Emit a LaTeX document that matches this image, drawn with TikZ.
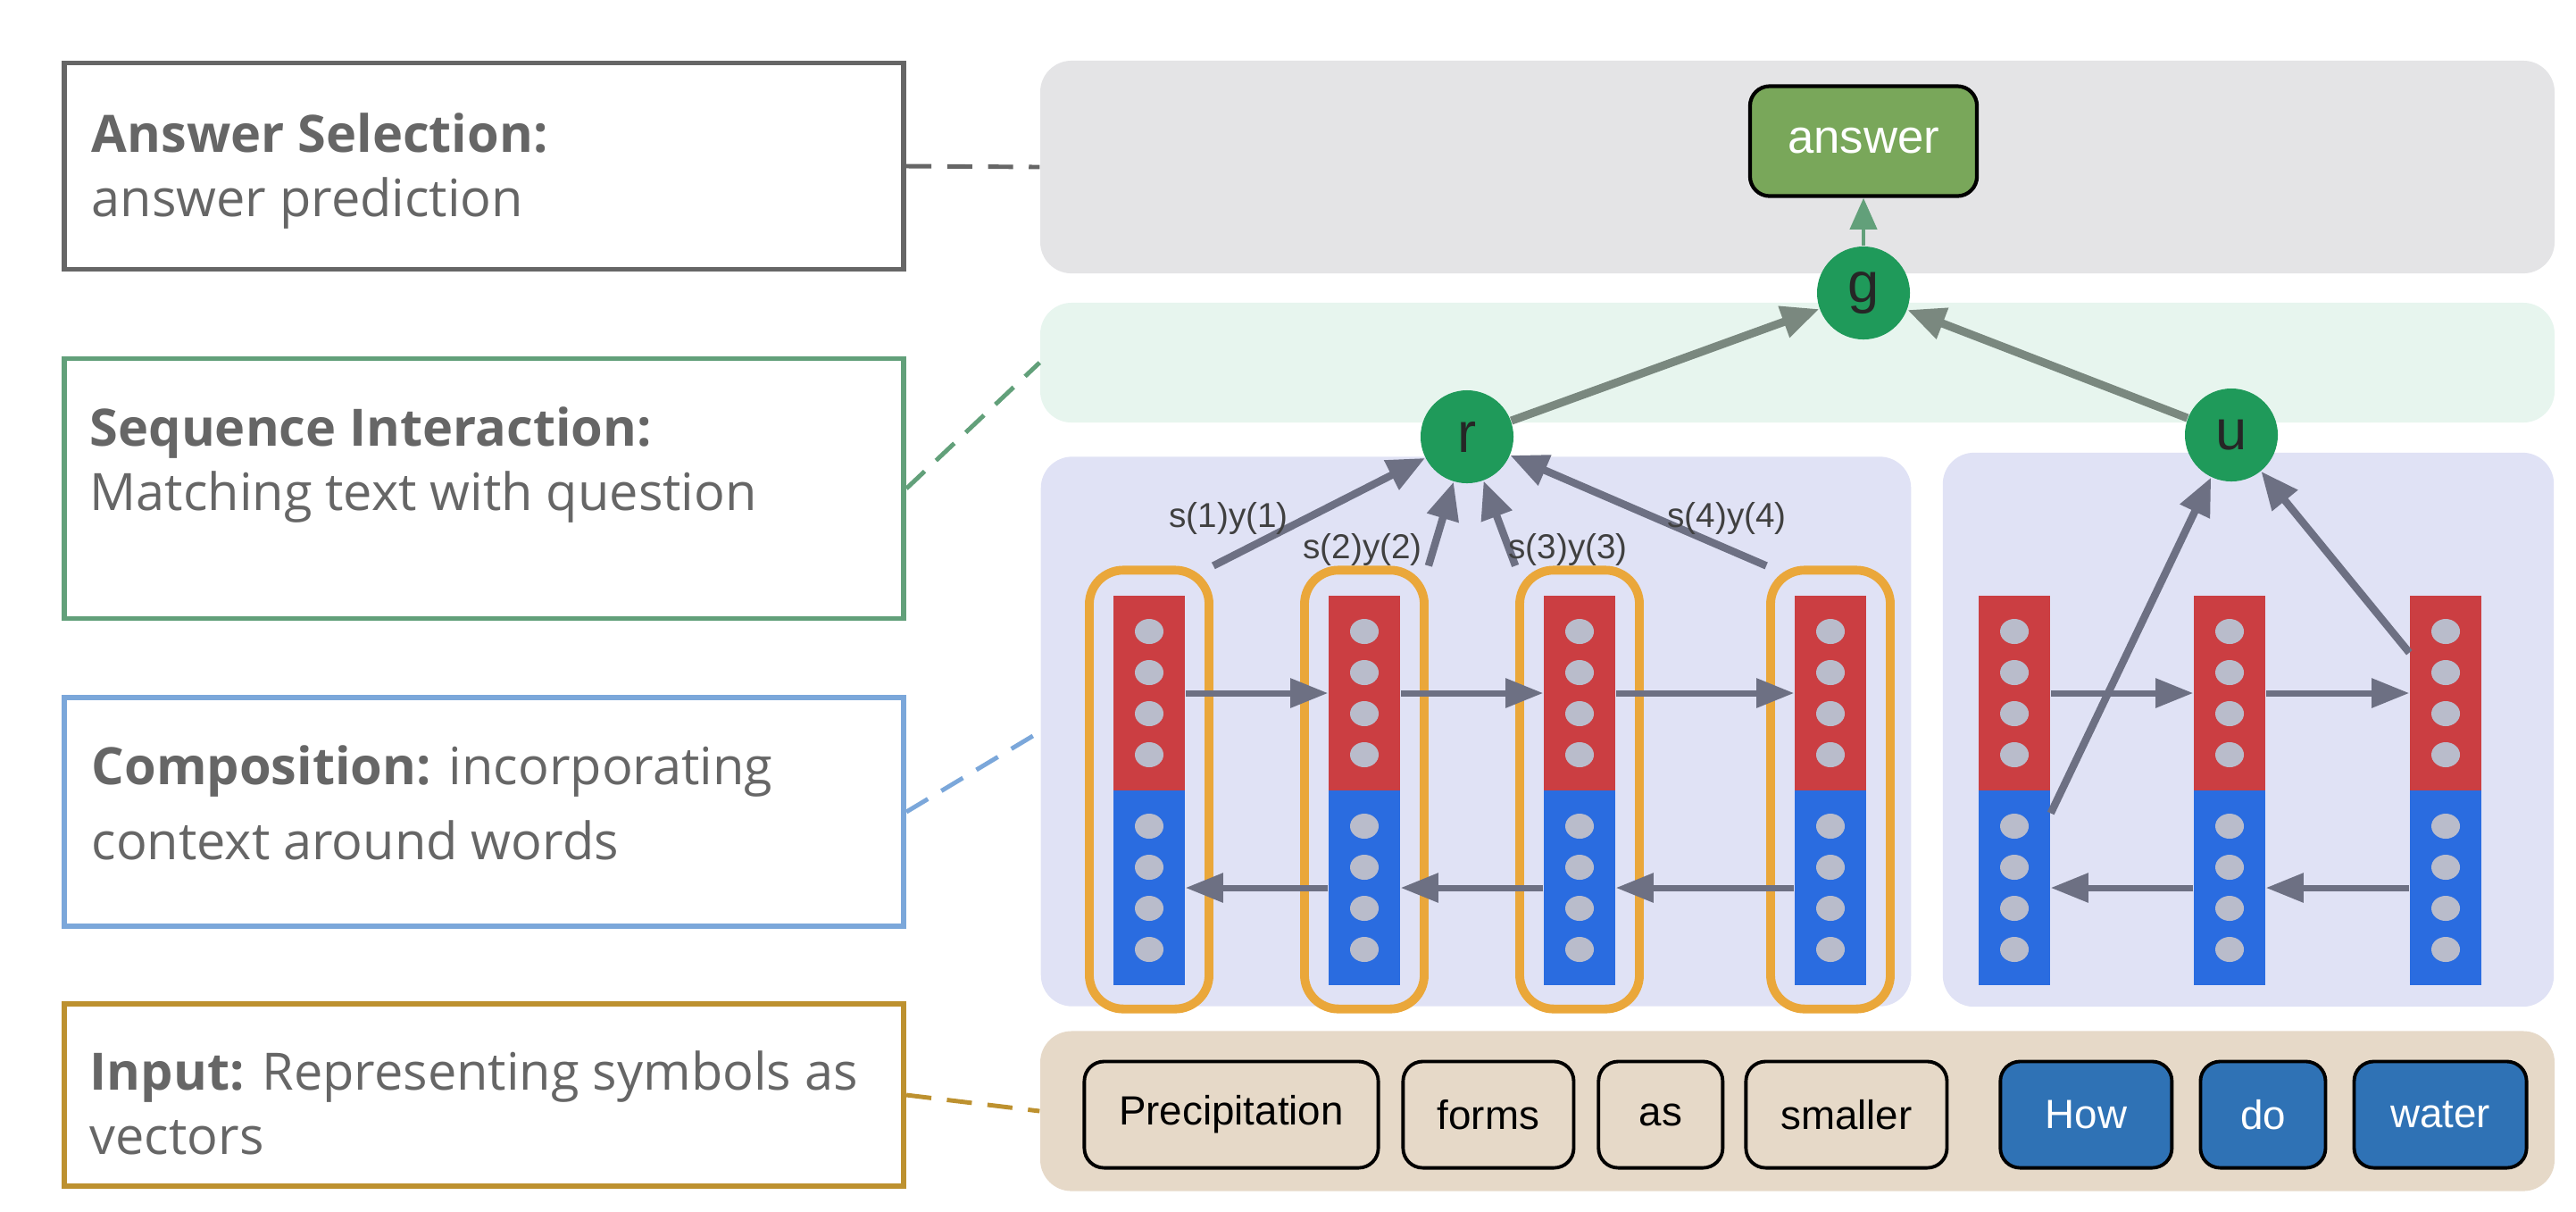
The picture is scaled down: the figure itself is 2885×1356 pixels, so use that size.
\documentclass[tikz,border=0pt]{standalone}
\usepackage{fontspec}
\setmainfont{Liberation Sans}
\newfontfamily\sidefont[Ligatures=NoCommon]{Open Sans}
\usetikzlibrary{arrows.meta, positioning}

\definecolor{labelgray}{HTML}{666666}
\definecolor{seqgreen}{HTML}{62A07A}
\definecolor{compblue}{HTML}{7BA7DA}
\definecolor{inputgold}{HTML}{BD912F}
\definecolor{panelgray}{HTML}{E4E4E6}
\definecolor{panelgreen}{HTML}{E7F5EE}
\definecolor{panellav}{HTML}{E0E2F5}
\definecolor{paneltan}{HTML}{E6D9C8}
\definecolor{fwdred}{HTML}{CB3E42}
\definecolor{bwdblue}{HTML}{2A6CE0}
\definecolor{dotgray}{HTML}{B9BCCB}
\definecolor{ctxorange}{HTML}{EAA73A}
\definecolor{arrowgray}{HTML}{6D7083}
\definecolor{topgray}{HTML}{7A887F}
\definecolor{unitgreen}{HTML}{1F9A5A}
\definecolor{answergreen}{HTML}{79A75A}
\definecolor{questblue}{HTML}{2F72B5}

\tikzset{
  labelbox/.style={draw, line width=1.6pt, minimum width=9.4cm, inner sep=0pt},
  labeltext/.style={anchor=north west, inner sep=0pt, align=left, text=labelgray,
    font=\sidefont\fontsize{16.4}{20.5}\selectfont, execute at begin node=\strut},
  panel/.style={rounded corners=0.35cm, inner sep=0pt},
  joiner/.style={dash pattern=on 8pt off 5pt, line width=1.4pt},
  wordbox/.style={draw=black, line width=1.1pt, rounded corners=0.22cm,
    minimum height=1.19cm, inner sep=0pt, font=\fontsize{13}{15}\selectfont},
  unit/.style={circle, fill=unitgreen, minimum size=1.04cm, inner sep=0pt,
    text=black!85, font=\fontsize{18}{20}\selectfont},
  fwd/.style={fill=fwdred, minimum width=0.8cm, minimum height=2.18cm, inner sep=0pt},
  bwd/.style={fill=bwdblue, minimum width=0.8cm, minimum height=2.18cm, inner sep=0pt},
  ctx/.style={draw=ctxorange, line width=2.8pt, rounded corners=0.38cm,
    minimum width=1.34cm, minimum height=4.91cm, inner sep=0pt},
  flow/.style={draw=arrowgray, line width=2pt, -{Triangle[length=12pt, width=9pt]}},
  attn/.style={draw=arrowgray, line width=2.4pt, -{Triangle[length=12pt, width=10pt]}},
  merge/.style={draw=topgray, line width=2.6pt, -{Triangle[length=12pt, width=10pt]}},
  weight/.style={text=black!75, font=\fontsize{11}{12}\selectfont, inner sep=0pt}
}

\begin{document}
\begin{tikzpicture}[x=0.01cm, y=-0.01cm]
  \useasboundingbox (0,0) rectangle (2885,1356);

  \node (selpanel) [panel, fill=panelgray, minimum width=16.95cm, minimum height=2.38cm] at (2013,187) {};
  \node (seqpanel) [panel, fill=panelgreen, minimum width=16.95cm, minimum height=1.34cm] at (2013,406) {};
  \node (ctxpanel) [panel, fill=panellav, minimum width=9.74cm, minimum height=6.15cm] at (1653,819) {};
  \node (qpanel) [panel, fill=panellav, minimum width=6.84cm, minimum height=6.2cm] at (2518,817) {};
  \node (inpanel) [panel, fill=paneltan, minimum width=16.95cm, minimum height=1.79cm] at (2013,1244) {};

  \node (selbox) [labelbox, draw=labelgray, minimum height=2.31cm] at (542,186) {};
  \node (seqbox) [labelbox, draw=seqgreen, minimum height=2.91cm] at (542,547) {};
  \node (compbox) [labelbox, draw=compblue, minimum height=2.56cm] at (542,909) {};
  \node (inbox) [labelbox, draw=inputgold, minimum height=2.04cm] at (542,1226) {};

  \node (seltext) [labeltext] at (102,126) {\textbf{Answer Selection:}\\answer prediction};
  \node (seqtext) [labeltext] at (100,455) {\textbf{Sequence Interaction:}\\Matching text with question};
  \node (comptext) [labeltext] at (102,834) {\textbf{Composition:} incorporating\\[3.5pt]context around words};
  \node (intext) [labeltext] at (100,1176) {\textbf{Input:} Representing symbols as\\vectors};

  \draw [joiner, draw=labelgray] (selbox.east) -- (selpanel.west);
  \draw [joiner, draw=seqgreen] (seqbox.east) -- (seqpanel.west);
  \draw [joiner, draw=compblue] (compbox.east) -- (ctxpanel.west);
  \draw [joiner, draw=inputgold] (inbox.east) -- (inpanel.west);

  \node (w1) [wordbox, fill=paneltan, minimum width=3.29cm] at (1379,1248) {Precipitation};
  \node (w2) [wordbox, fill=paneltan, minimum width=1.91cm, right=6.8pt of w1] {forms};
  \node (w3) [wordbox, fill=paneltan, minimum width=1.39cm, right=6.8pt of w2] {as};
  \node (w4) [wordbox, fill=paneltan, minimum width=2.25cm, right=6.3pt of w3] {smaller};
  \node (q1) [wordbox, fill=questblue, text=white, minimum width=1.92cm, right=15.9pt of w4] {How};
  \node (q2) [wordbox, fill=questblue, text=white, minimum width=1.40cm, right=8pt of q1] {do};
  \node (q3) [wordbox, fill=questblue, text=white, minimum width=1.93cm, right=8pt of q2] {water};

  \foreach \i/\x in {1/1287, 2/1528, 3/1769, 4/2050} {
    \node (f\i) [fwd] at (\x,776) {};
    \node (b\i) [bwd] at (\x,994) {};
    \node (c\i) [ctx] at (\x,884) {};
    \foreach \y in {707,753,799,845,925,971,1017,1063}
      \fill [dotgray] (\x,\y) ellipse (0.16cm and 0.14cm);
  }
  \foreach \i/\x in {1/2256, 2/2497, 3/2739} {
    \node (qf\i) [fwd] at (\x,776) {};
    \node (qb\i) [bwd] at (\x,994) {};
    \foreach \y in {707,753,799,845,925,971,1017,1063}
      \fill [dotgray] (\x,\y) ellipse (0.16cm and 0.14cm);
  }

  \node (answer) [draw=black, line width=1.2pt, fill=answergreen, rounded corners=0.22cm,
    minimum width=2.54cm, minimum height=1.23cm, text=white,
    font=\fontsize{15}{17}\selectfont] at (2087,158) {answer};
  \node (g) [unit] at (2087,328) {g};
  \node (r) [unit] at (1643,489) {r};
  \node (u) [unit] at (2499,487) {u};

  \draw [flow] (f1.east) -- (f2.west);
  \draw [flow] (f2.east) -- (f3.west);
  \draw [flow] (f3.east) -- (f4.west);
  \draw [flow] (b2.west) -- (b1.east);
  \draw [flow] (b3.west) -- (b2.east);
  \draw [flow] (b4.west) -- (b3.east);
  \draw [flow] (qf1.east) -- (qf2.west);
  \draw [flow] (qf2.east) -- (qf3.west);
  \draw [flow] (qb2.west) -- (qb1.east);
  \draw [flow] (qb3.west) -- (qb2.east);

  \draw [attn] (c1.74) -- (r);
  \draw [attn] (c2.74) -- (r);
  \draw [attn] (c3.106) -- (r);
  \draw [attn] (c4.106) -- (r);
  \node (s1) [weight] at (1376,580) {s(1)y(1)};
  \node (s2) [weight] at (1526,615) {s(2)y(2)};
  \node (s3) [weight] at (1756,615) {s(3)y(3)};
  \node (s4) [weight] at (1934,580) {s(4)y(4)};

  \draw [attn] (qb1.64) -- (u);
  \draw [attn] (qf3.132) -- (u);

  \draw [merge] (r) -- (g);
  \draw [merge] (u) -- (g);
  \draw [draw=seqgreen, line width=1.3pt, -{Triangle[length=10pt, width=8.5pt]}] (g) -- (answer);
\end{tikzpicture}
\end{document}
